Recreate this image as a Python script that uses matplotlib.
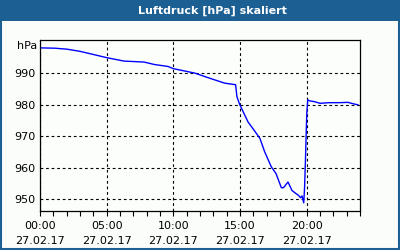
import matplotlib
matplotlib.use('Agg')
import matplotlib.pyplot as plt
from matplotlib.patches import Rectangle
from matplotlib.ticker import MultipleLocator

# Luftdruck over the day, hours since 00:00 and hPa
hours = [0.0, 1.1, 2.0, 3.0, 4.0, 5.0, 6.3, 7.8, 8.6, 9.6, 10.0, 11.6, 12.7,
         13.85, 14.67, 14.77, 14.97, 15.6, 16.2, 16.5, 16.85, 17.35, 17.7,
         18.1, 18.26, 18.6, 18.9, 19.4, 19.54, 19.65, 19.78, 19.84, 19.91,
         19.96, 20.01, 20.08, 20.2, 20.6, 21.0, 21.7, 22.45, 23.1, 23.35, 23.85]
pressure = [998.0, 997.9, 997.6, 996.9, 995.9, 994.9, 993.8, 993.5, 992.7,
            992.1, 991.4, 990.0, 988.4, 986.8, 986.3, 982.5, 980.1, 974.5,
            971.0, 969.2, 965.0, 960.2, 958.1, 953.6, 953.6, 955.4, 952.7,
            951.1, 950.4, 951.0, 948.8, 953.3, 962.3, 970.3, 977.2, 981.5,
            981.2, 980.9, 980.4, 980.6, 980.6, 980.7, 980.4, 979.9]

tick_hours = [0, 5, 10, 15, 20]
tick_labels = ['00:00\n27.02.17', '05:00\n27.02.17', '10:00\n27.02.17',
               '15:00\n27.02.17', '20:00\n27.02.17']
y_ticks = [950, 960, 970, 980, 990]

fig = plt.figure(figsize=(4, 2.5), dpi=100, facecolor='#fbfdfb')
ax = fig.add_axes([0.1, 0.156, 0.8, 0.684])
ax.set_facecolor('#fbfefb')

ax.plot(hours, pressure, color='#0000ff', linewidth=1.0)

ax.set_xlim(0, 24)
ax.set_ylim(946.2, 1000.5)
ax.set_xticks(tick_hours)
ax.set_xticklabels(tick_labels, linespacing=1.6)
ax.xaxis.set_minor_locator(MultipleLocator(1))
ax.set_yticks(y_ticks)
ax.tick_params(axis='x', which='both', direction='out', length=3.5, width=0.8,
               labelsize=8, pad=4)
ax.tick_params(axis='y', length=0, labelsize=8, pad=3)

ax.grid(True, color='black', linestyle=(0, (2.5, 2.5)), linewidth=0.8)
for s in ax.spines.values():
    s.set_color('black')
    s.set_linewidth(0.9)

ax.text(-0.01, 998.5, 'hPa', transform=ax.get_yaxis_transform(),
        ha='right', va='center', fontsize=8)

# blue title bar and border
fig.patches.append(Rectangle((0, 0.916), 1, 0.084, transform=fig.transFigure,
                             facecolor='#1b5f93', edgecolor='none', zorder=0))
fig.patches.append(Rectangle((0.002, 0.003), 0.995, 0.995, transform=fig.transFigure,
                             facecolor='none', edgecolor='#1b5f93', linewidth=1.5))
fig.text(0.53, 0.956, 'Luftdruck [hPa] skaliert', color='white', fontsize=8,
         fontweight='bold', ha='center', va='center')

fig.savefig('out.png', dpi=100, facecolor=fig.get_facecolor())
